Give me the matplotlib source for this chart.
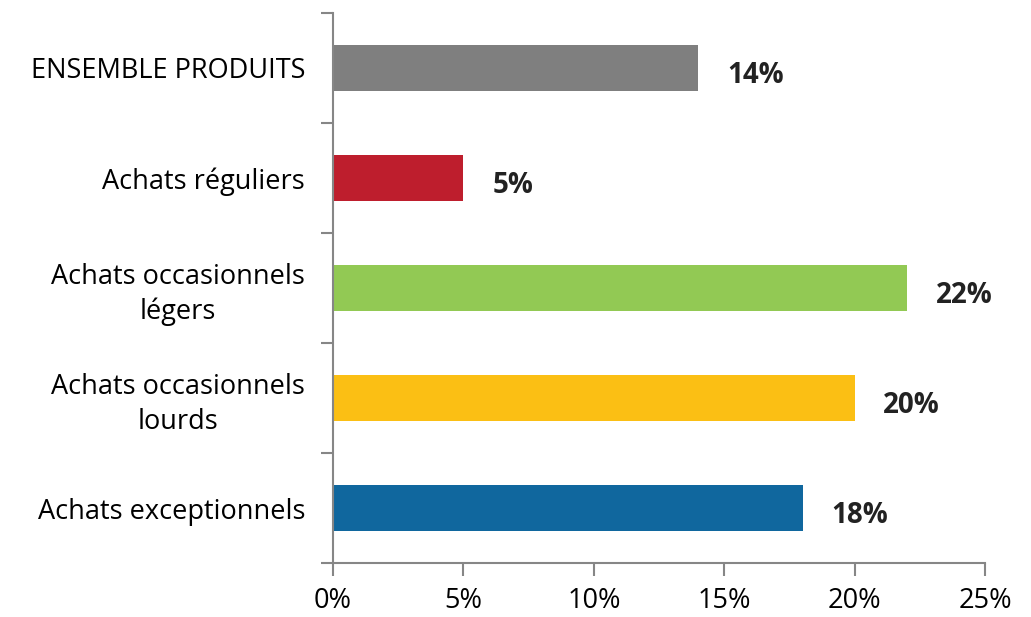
"""
Horizontal bar chart: share per purchase type
"""

import matplotlib.pyplot as plt
from matplotlib.ticker import FuncFormatter

categories = ["ENSEMBLE PRODUITS", "Achats réguliers", "Achats occasionnels\nlégers",
              "Achats occasionnels\nlourds", "Achats exceptionnels"]
values = [14, 5, 22, 20, 18]
colors = ["#7F7F7F", "#BE1E2D", "#92C954", "#FBBF14", "#10679E"]
xticks = [0, 5, 10, 15, 20, 25]

plt.rcParams['font.family'] = ['Open Sans', 'DejaVu Sans']

fig = plt.figure(figsize=(10.31, 6.17), dpi=100)
ax = fig.add_axes([0.323, 0.0875, 0.6325, 0.8915])

y = list(range(len(categories)))[::-1]
ax.barh(y, values, height=0.41, color=colors)

for yi, v in zip(y, values):
    ax.text(v + 1.1, yi - 0.07, f"{v}%", va="center", ha="left",
            fontsize=20, fontweight="bold", color="#222222")

ax.set_xlim(0, 25)
ax.set_ylim(-0.5, len(categories) - 0.5)
ax.set_xticks(xticks)
ax.xaxis.set_major_formatter(FuncFormatter(lambda x, p: f"{x:.0f}%"))

# category labels between separator ticks
ax.set_yticks(y)
ax.set_yticklabels(categories, multialignment="center", linespacing=1.3)
ax.set_yticks([i - 0.5 for i in range(len(categories) + 1)], minor=True)
ax.tick_params(axis="y", which="major", length=0, pad=20, labelsize=19.5)
ax.tick_params(axis="y", which="minor", length=9, width=1.5, color="#868686")
ax.tick_params(axis="x", length=9, width=1.5, color="#868686", labelsize=19.5, pad=8)

for lab in ax.get_yticklabels():
    lab.set_horizontalalignment("right")

for s in ["top", "right"]:
    ax.spines[s].set_visible(False)
for s in ["left", "bottom"]:
    ax.spines[s].set_color("#868686")
    ax.spines[s].set_linewidth(1.5)

plt.savefig("out.png", dpi=100)
